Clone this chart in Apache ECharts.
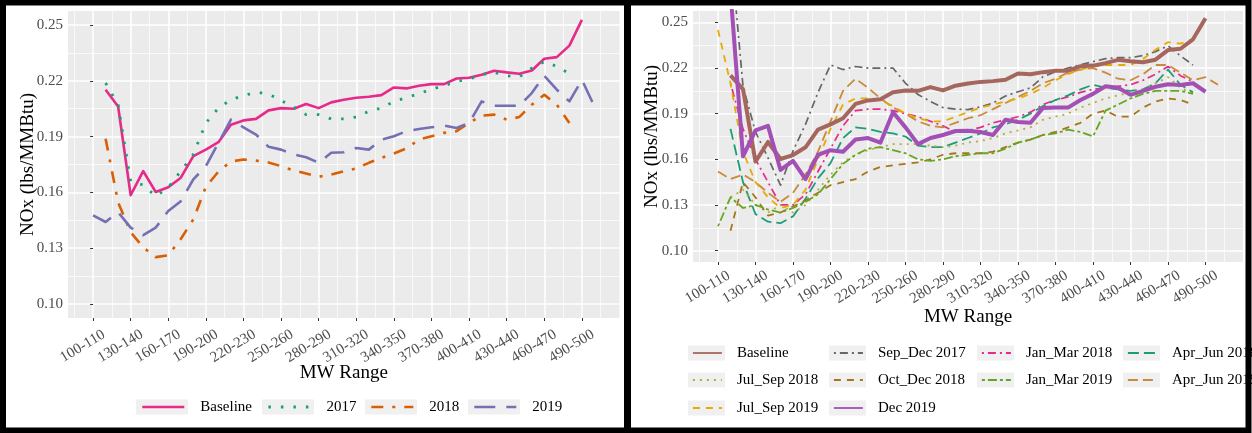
<!DOCTYPE html>
<html>
<head>
<meta charset="utf-8">
<script src="https://cdn.jsdelivr.net/npm/echarts@6/dist/echarts.min.js"></script>
<style>html,body{margin:0;padding:0;background:#fff}#c{width:1252px;height:433px}</style>
</head>
<body>
<div id="c"></div>
<script>
// ---------- DATA ----------
const mwRanges = ["100-110","110-120","120-130","130-140","140-150","150-160","160-170","170-180","180-190","190-200",
  "200-210","210-220","220-230","230-240","240-250","250-260","260-270","270-280","280-290","290-300",
  "300-310","310-320","320-330","330-340","340-350","350-360","360-370","370-380","380-390","390-400",
  "400-410","410-420","420-430","430-440","440-450","450-460","460-470","470-480","480-490","490-500","500-510"];
const xTickIdx = [0,3,6,9,12,15,18,21,24,27,30,33,36,39];
const xMinorIdx = [-1.5,1.5,4.5,7.5,10.5,13.5,16.5,19.5,22.5,25.5,28.5,31.5,34.5,37.5,40.5];
const yTicks = [0.10,0.13,0.16,0.19,0.22,0.25];
const yMinor = [0.115,0.145,0.175,0.205,0.235];

// left panel
const baseline = [null,0.2152,0.2062,0.1585,0.1714,0.1602,0.1628,0.1679,0.1795,0.183,0.187,0.1964,0.1987,0.1995,0.2041,0.2053,0.205,0.2075,0.2053,0.2084,0.2098,0.2109,0.2114,0.2123,0.2164,0.2159,0.2173,0.2182,0.2182,0.2212,0.2216,0.2232,0.2254,0.2245,0.2238,0.2255,0.2318,0.2327,0.2389,0.2527,null];
const y2017 = [null,0.2188,0.207,0.166,0.164,0.158,0.1627,0.1714,0.1804,0.1973,0.2053,0.2098,0.212,0.2139,0.2129,0.2094,0.2059,0.2018,0.2018,0.1995,0.1995,0.2005,0.2036,0.2053,0.2089,0.211,0.213,0.2155,0.2173,0.2196,0.2209,0.2232,0.2245,0.2227,0.222,0.2268,0.2303,0.2277,0.2238,null,null];
const y2018 = [null,0.1888,0.1546,0.1386,0.1305,0.1252,0.1262,0.135,0.1455,0.163,0.1712,0.1766,0.1777,0.1771,0.1761,0.1741,0.1718,0.1702,0.1684,0.1696,0.1714,0.1729,0.1759,0.1786,0.1809,0.1836,0.1884,0.1902,0.192,0.1929,0.1973,0.2013,0.2018,0.1991,0.2005,0.2071,0.2125,0.2071,0.1973,null,null];
const y2019 = [0.1477,0.1441,0.1494,0.1411,0.137,0.1411,0.15,0.1553,0.167,0.1741,0.1866,0.1991,0.195,0.1911,0.1845,0.183,0.1804,0.1789,0.1759,0.1813,0.1816,0.1839,0.183,0.1884,0.1902,0.1929,0.1941,0.195,0.1959,0.1946,0.1973,0.2089,0.2066,0.2066,0.2066,0.2134,0.2227,0.2152,0.2089,0.2205,0.2062];

// right panel
const sepDec2017 = [null,0.30,0.208,0.178,0.161,0.143,0.1655,0.183,0.204,0.222,0.219,0.221,0.220,0.220,0.220,0.210,0.2026,0.198,0.194,0.193,0.1927,0.1945,0.197,0.2016,0.2044,0.207,0.2143,0.2176,0.220,0.2222,0.2242,0.2262,0.2268,0.2268,0.2282,0.2308,0.2346,0.228,0.222,null,null];
const janMar2018 = [null,0.21,0.18,0.16,0.145,0.13,0.13,0.137,0.152,0.167,0.182,0.192,0.193,0.193,0.192,0.19,0.188,0.185,0.182,0.178,0.179,0.181,0.184,0.186,0.188,0.191,0.196,0.199,0.201,0.204,0.206,0.207,0.208,0.209,0.212,0.216,0.221,0.215,0.211,null,null];
const aprJun2018 = [null,0.18,0.145,0.124,0.119,0.118,0.1225,0.134,0.1475,0.1575,0.174,0.181,0.180,0.178,0.177,0.175,0.169,0.168,0.168,0.171,0.174,0.177,0.181,0.183,0.186,0.19,0.195,0.199,0.202,0.206,0.209,0.207,0.206,0.205,0.206,0.21,0.219,0.209,0.204,null,null];
const julSep2018 = [null,0.135,0.14,0.13,0.125,0.13,0.125,0.13,0.14,0.15,0.158,0.163,0.166,0.168,0.17,0.17,0.17,0.169,0.168,0.169,0.171,0.172,0.174,0.177,0.179,0.181,0.186,0.188,0.19,0.194,0.197,0.2,0.202,0.204,0.206,0.21,0.214,0.207,0.203,null,null];
const octDec2018 = [null,0.113,0.145,0.135,0.123,0.125,0.129,0.133,0.138,0.143,0.145,0.147,0.152,0.155,0.156,0.157,0.158,0.16,0.163,0.164,0.164,0.164,0.165,0.168,0.171,0.173,0.176,0.178,0.181,0.184,0.19,0.192,0.188,0.188,0.194,0.198,0.200,0.199,0.196,null,null];
const janMar2019 = [0.116,0.135,0.128,0.13,0.127,0.125,0.128,0.132,0.137,0.147,0.157,0.163,0.167,0.168,0.166,0.164,0.16,0.159,0.16,0.162,0.163,0.164,0.164,0.167,0.171,0.173,0.176,0.177,0.1795,0.178,0.175,0.192,0.196,0.2,0.203,0.205,0.205,0.205,0.203,null,null];
const aprJun2019 = [0.152,0.147,0.15,0.145,0.138,0.132,0.138,0.15,0.165,0.185,0.205,0.213,0.207,0.2,0.194,0.19,0.185,0.182,0.181,0.184,0.187,0.189,0.193,0.197,0.201,0.205,0.21,0.213,0.217,0.219,0.22,0.217,0.213,0.212,0.216,0.222,0.222,0.217,0.212,0.214,0.209];
const julSep2019 = [0.245,0.21,0.165,0.145,0.135,0.128,0.13,0.14,0.16,0.18,0.196,0.2,0.2,0.199,0.195,0.19,0.187,0.185,0.185,0.188,0.191,0.194,0.196,0.198,0.2,0.203,0.207,0.212,0.216,0.219,0.221,0.222,0.222,0.222,0.226,0.232,0.237,0.236,0.239,0.251,null];
const dec2019 = [null,0.27,0.162,0.179,0.182,0.153,0.159,0.147,0.163,0.166,0.165,0.173,0.174,0.171,0.191,0.181,0.170,0.174,0.176,0.1786,0.1788,0.178,0.176,0.186,0.1845,0.184,0.1938,0.194,0.194,0.199,0.203,0.208,0.207,0.2024,0.205,0.2077,0.2093,0.2088,0.210,0.2044,null];

// ---------- STYLE ----------
const SERIF = '"Liberation Serif","Times New Roman",serif';
const toPts = arr => arr.map((v, i) => [i, v]).filter(d => d[1] !== null);

const leftSeries = [
  {id:'L-Baseline', label:'Baseline', data:baseline, color:'#E7298A', width:2.6, dash:'solid'},
  {id:'L-2017', label:'2017', data:y2017, color:'#1B9E77', width:2.8, dash:[2.5,10]},
  {id:'L-2018', label:'2018', data:y2018, color:'#D95F02', width:2.6, dash:[12,9,3,9]},
  {id:'L-2019', label:'2019', data:y2019, color:'#7570B3', width:2.6, dash:[21,11]}
];
const rightSeries = [
  {id:'R-Sep_Dec 2017', label:'Sep_Dec 2017', data:sepDec2017, color:'#666666', width:1.7, dash:[2,4,8,4]},
  {id:'R-Jan_Mar 2018', label:'Jan_Mar 2018', data:janMar2018, color:'#E7298A', width:1.7, dash:[2,4,8,4]},
  {id:'R-Apr_Jun 2018', label:'Apr_Jun 2018', data:aprJun2018, color:'#1B9E77', width:1.8, dash:[11,5]},
  {id:'R-Jul_Sep 2018', label:'Jul_Sep 2018', data:julSep2018, color:'#B3AE3C', width:1.8, dash:[2,5]},
  {id:'R-Oct_Dec 2018', label:'Oct_Dec 2018', data:octDec2018, color:'#A6761D', width:1.8, dash:[7,6]},
  {id:'R-Jan_Mar 2019', label:'Jan_Mar 2019', data:janMar2019, color:'#66A61E', width:1.8, dash:[3,3,9,3]},
  {id:'R-Apr_Jun 2019', label:'Apr_Jun 2019', data:aprJun2019, color:'#C98A3C', width:1.8, dash:[10,5]},
  {id:'R-Jul_Sep 2019', label:'Jul_Sep 2019', data:julSep2019, color:'#E6AB02', width:1.8, dash:[7,6]},
  {id:'R-Baseline', label:'Baseline', data:baseline, color:'#A5665E', width:4, dash:'solid'},
  {id:'R-Dec 2019', label:'Dec 2019', data:dec2019, color:'#A24FB6', width:4, dash:'solid'}
];

// legend layout
const leftLegend = [
  {id:'L-Baseline', box:136}, {id:'L-2017', box:262}, {id:'L-2018', box:365}, {id:'L-2019', box:468}
];
const leftLegendY = 407;
const rightCols = [688, 829, 977, 1123];
const rightRows = [353, 380, 408];
const rightLegendOrder = ['R-Baseline','R-Sep_Dec 2017','R-Jan_Mar 2018','R-Apr_Jun 2018',
  'R-Jul_Sep 2018','R-Oct_Dec 2018','R-Jan_Mar 2019','R-Apr_Jun 2019','R-Jul_Sep 2019','R-Dec 2019'];

const grids = [
  {left:68, top:11, right:1252-619.5, bottom:433-318},
  {left:693, top:11, right:1252-1243, bottom:433-262}
];

function xAxes(g, nameGap, labelMargin) {
  return [{
    type:'value', gridIndex:g, min:-2, max:42,
    axisLine:{show:false},
    axisTick:{show:true, customValues:xTickIdx, length:3, lineStyle:{color:'#333', width:1}},
    axisLabel:{customValues:xTickIdx, formatter:v => mwRanges[Math.round(v)], rotate:31, align:'center', verticalAlign:'middle',
      padding:[0,24,0,0], margin:labelMargin, fontFamily:SERIF, fontSize:15, color:'#4D4D4D'},
    splitLine:{show:true, lineStyle:{color:'#FFFFFF', width:1.5}},
    name:'MW Range', nameLocation:'middle', nameGap:nameGap, nameMoveOverlap:false,
    nameTextStyle:{fontFamily:SERIF, fontSize:19, color:'#000'}
  },{
    type:'value', gridIndex:g, min:-2, max:42, position:'top',
    axisLine:{show:false}, axisLabel:{show:false},
    axisTick:{show:false, customValues:xMinorIdx},
    splitLine:{show:true, lineStyle:{color:'#FFFFFF', width:0.7}}
  }];
}
function yAxes(g, nameGap) {
  return [{
    type:'value', gridIndex:g, min:0.0925, max:0.2575,
    axisLine:{show:false},
    axisTick:{show:true, customValues:yTicks, length:3, lineStyle:{color:'#333', width:1}},
    axisLabel:{customValues:yTicks, formatter:v => v.toFixed(2), margin:5, fontFamily:SERIF, fontSize:15, color:'#4D4D4D'},
    splitLine:{show:true, lineStyle:{color:'#FFFFFF', width:1.5}},
    name:'NOx (lbs/MMBtu)', nameLocation:'middle', nameGap:nameGap, nameMoveOverlap:false,
    nameTextStyle:{fontFamily:SERIF, fontSize:19, color:'#000'}
  },{
    type:'value', gridIndex:g, min:0.0925, max:0.2575, position:'right',
    axisLine:{show:false}, axisLabel:{show:false},
    axisTick:{show:false, customValues:yMinor},
    splitLine:{show:true, lineStyle:{color:'#FFFFFF', width:0.7}}
  }];
}

function mkSeries(s, axisIdx) {
  return {
    type:'line', name:s.id, xAxisIndex:axisIdx, yAxisIndex:axisIdx,
    data:toPts(s.data), symbol:'none', showSymbol:false, clip:true, silent:true,
    lineStyle:{color:s.color, width:s.width, type:s.dash, cap:'butt', join:'round'},
    itemStyle:{color:s.color}, emphasis:{disabled:true}
  };
}

const series = leftSeries.map(s => mkSeries(s, 0)).concat(rightSeries.map(s => mkSeries(s, 2)));

const legends = [];
const graphics = [];
leftLegend.forEach(item => {
  const s = leftSeries.find(d => d.id === item.id);
  graphics.push({type:'rect', z:1, shape:{x:item.box, y:leftLegendY-7.5, width:52, height:15}, style:{fill:'#F0F0F0'}});
  legends.push({
    data:[item.id], left:item.box+5, top:leftLegendY-7.5, padding:0, itemWidth:42, itemHeight:15,
    formatter:() => s.label, selectedMode:false,
    textStyle:{fontFamily:SERIF, fontSize:15, color:'#000', padding:[0,0,0,11]},
    itemStyle:{opacity:0}, lineStyle:{width:s.width}
  });
});
rightLegendOrder.forEach((id, k) => {
  const s = rightSeries.find(d => d.id === id);
  const bx = rightCols[k % 4], cy = rightRows[Math.floor(k / 4)];
  graphics.push({type:'rect', z:1, shape:{x:bx, y:cy-7.5, width:37, height:15}, style:{fill:'#F0F0F0'}});
  legends.push({
    data:[id], left:bx+4, top:cy-7.5, padding:0, itemWidth:29, itemHeight:15,
    formatter:() => s.label, selectedMode:false,
    textStyle:{fontFamily:SERIF, fontSize:15, color:'#000', padding:[0,0,0,10]},
    itemStyle:{opacity:0}, lineStyle:{width:1.8}
  });
});
// panel frames on top
graphics.push({type:'rect', z:100, shape:{x:3, y:2.5, width:624, height:428}, style:{fill:'none', stroke:'#000', lineWidth:6}});
graphics.push({type:'rect', z:100, shape:{x:628, y:2.5, width:620.5, height:428}, style:{fill:'none', stroke:'#000', lineWidth:6}});

const option = {
  animation:false,
  backgroundColor:'#FFFFFF',
  grid: grids.map(g => Object.assign({show:true, backgroundColor:'#EBEBEB', borderWidth:0, containLabel:false, outerBoundsMode:'none'}, g)),
  xAxis: xAxes(0, 46, 22).concat(xAxes(1, 46, 19)),
  yAxis: yAxes(0, 30).concat(yAxes(1, 31)),
  legend: legends,
  graphic: {elements: graphics},
  series: series
};
const chart = echarts.init(document.getElementById('c'), null, {renderer:'canvas'});
chart.setOption(option);
</script>
</body>
</html>
